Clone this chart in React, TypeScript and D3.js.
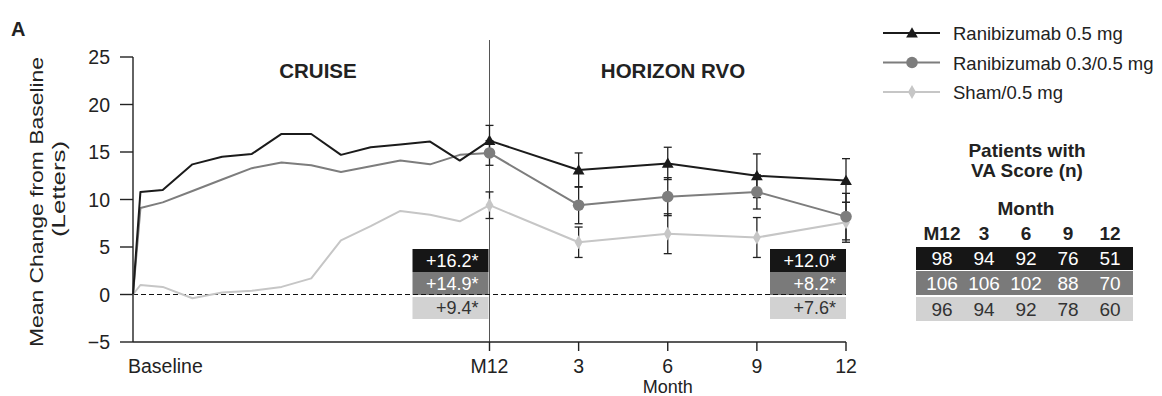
import React from "react";
import * as d3 from "d3";

// ---- data ----
const cruiseMonths = [0, 0.25, 1, 2, 3, 4, 5, 6, 7, 8, 9, 10, 11, 12];
const horizonMonths = [12, 15, 18, 21, 24];
const xTickMonths = [0, 12, 15, 18, 21, 24];
const xTickLabels = ["Baseline", "M12", "3", "6", "9", "12"];
const yTicks = [-5, 0, 5, 10, 15, 20, 25];

const seriesNames = ["Ranibizumab 0.5 mg", "Ranibizumab 0.3/0.5 mg", "Sham/0.5 mg"];

const ranib05Cruise = [0, 10.8, 11.0, 13.7, 14.5, 14.8, 16.9, 16.9, 14.7, 15.5, 15.8, 16.1, 14.1, 16.2];
const ranib03Cruise = [0, 9.1, 9.7, 10.9, 12.1, 13.3, 13.9, 13.6, 12.9, 13.5, 14.1, 13.7, 14.7, 14.9];
const shamCruise = [0, 1.0, 0.8, -0.4, 0.2, 0.4, 0.8, 1.7, 5.7, 7.2, 8.8, 8.4, 7.7, 9.4];

const ranib05Horizon = [16.2, 13.1, 13.8, 12.5, 12.0];
const ranib03Horizon = [14.9, 9.4, 10.3, 10.8, 8.2];
const shamHorizon = [9.4, 5.5, 6.4, 6.0, 7.6];

const ranib05SE = [1.6, 1.8, 1.7, 2.3, 2.3];
const ranib03SE = [1.3, 1.95, 2.0, 1.8, 2.45];
const shamSE = [1.4, 1.6, 2.1, 2.1, 2.1];

const leftLabels = ["+16.2*", "+14.9*", "+9.4*"];
const rightLabels = ["+12.0*", "+8.2*", "+7.6*"];

const tableCols = ["M12", "3", "6", "9", "12"];
const tableRanib05 = [98, 94, 92, 76, 51];
const tableRanib03 = [106, 106, 102, 88, 70];
const tableSham = [96, 94, 92, 78, 60];

// ---- styles ----
const FONT = "'Liberation Sans', Arial, Helvetica, sans-serif";
const TXT = "#222";
const lineColors = ["#1b1b1b", "#7d7d7d", "#c6c6c6"];
const boxColors = ["#161616", "#7a7a7a", "#d2d2d2"];
const boxText = ["#fff", "#fff", "#333"];

export default function App() {
  const W = 1162, H = 396;
  const x = d3.scaleLinear().domain([0, 24]).range([133, 846]);
  const y = d3.scaleLinear().domain([-5, 25]).range([342, 57]);

  const cruise = [ranib05Cruise, ranib03Cruise, shamCruise];
  const horizon = [ranib05Horizon, ranib03Horizon, shamHorizon];
  const ses = [ranib05SE, ranib03SE, shamSE];
  const series = cruise.map((c, i) => {
    const pts = cruiseMonths.map((m, j) => ({ m, v: c[j] }));
    const hp = horizonMonths.map((m, j) => ({ m, v: horizon[i][j], se: ses[i][j] }));
    return { pts: pts.concat(hp.slice(1)), hp };
  });

  const line = d3.line<{ m: number; v: number }>().x(d => x(d.m)).y(d => y(d.v));
  const tri = d3.symbol().type(d3.symbolTriangle).size(60)() as string;
  const dia = d3.symbol().type(d3.symbolDiamond).size(55)() as string;

  const marker = (i: number, cx: number, cy: number, key: string) => {
    if (i === 0) return <path key={key} d={tri} transform={`translate(${cx},${cy + 1})`} fill={lineColors[0]} />;
    if (i === 1) return <circle key={key} cx={cx} cy={cy} r={5.8} fill={lineColors[1]} />;
    return <path key={key} d={dia} transform={`translate(${cx},${cy})`} fill={lineColors[2]} />;
  };

  const order = [2, 1, 0];
  const boxRows = [[249, 272], [272, 295], [297, 319]];
  const tableRows = [[247, 270], [271, 295], [297, 321]];
  const tableData = [tableRanib05, tableRanib03, tableSham];
  const colX = d3.scalePoint<string>().domain(tableCols).range([942, 1110]);

  return (
    <svg width={W} height={H} style={{ position: "absolute", left: 0, top: 0, background: "#fff" }} fontFamily={FONT}>
      <rect x={0} y={0} width={W} height={H} fill="#fff" />
      <text x={11} y={36} fontSize={20} fontWeight="bold" fill={TXT}>A</text>

      {/* y axis label */}
      <text transform="translate(43,202) rotate(-90)" textAnchor="middle" fontSize={18.5} fill={TXT}
        textLength={290} lengthAdjust="spacingAndGlyphs">Mean Change from Baseline</text>
      <text transform="translate(65,189) rotate(-90)" textAnchor="middle" fontSize={18.5} fill={TXT}
        textLength={96} lengthAdjust="spacingAndGlyphs">(Letters)</text>

      {/* section titles */}
      <text x={318} y={78} textAnchor="middle" fontSize={20.5} fontWeight="bold" fill={TXT}>CRUISE</text>
      <text x={673} y={78} textAnchor="middle" fontSize={20.5} fontWeight="bold" fill={TXT}>HORIZON RVO</text>

      {/* M12 divider */}
      <line x1={x(12)} x2={x(12)} y1={40} y2={y(-5) + 9} stroke="#555" strokeWidth={1} />

      {/* value boxes */}
      {[leftLabels, rightLabels].map((labels, k) => {
        const xr = k === 0 ? x(12) - 1 : x(24);
        return labels.map((lab, i) => (
          <g key={`b${k}${i}`}>
            <rect x={xr - 76} y={boxRows[i][0]} width={76} height={boxRows[i][1] - boxRows[i][0]} fill={boxColors[i]} />
            <text x={xr - 10} y={boxRows[i][1] - 5} textAnchor="end" fontSize={18} fill={boxText[i]}>{lab}</text>
          </g>
        ));
      })}

      {/* zero line */}
      <line x1={x(0)} x2={x(24)} y1={y(0)} y2={y(0)} stroke="#111" strokeWidth={1.2} strokeDasharray="5,3" />

      {/* axes */}
      <line x1={x(0)} x2={x(0)} y1={y(25)} y2={y(-5)} stroke="#222" strokeWidth={1.4} />
      <line x1={x(0)} x2={x(24)} y1={y(-5)} y2={y(-5)} stroke="#222" strokeWidth={1.4} />
      {yTicks.map(t => (
        <g key={`yt${t}`}>
          <line x1={x(0) - 13} x2={x(0)} y1={y(t)} y2={y(t)} stroke="#222" strokeWidth={1.4} />
          <text x={110} y={y(t) + 7} textAnchor="end" fontSize={19.5} fill={TXT}>{t < 0 ? `\u2212${-t}` : t}</text>
        </g>
      ))}
      {xTickMonths.map((m, i) => (
        <g key={`xt${m}`}>
          {i > 0 && <line x1={x(m)} x2={x(m)} y1={y(-5)} y2={y(-5) + 9} stroke="#222" strokeWidth={1.4} />}
          <text x={i === 0 ? 128 : x(m)} y={373} textAnchor={i === 0 ? "start" : "middle"} fontSize={19.5} fill={TXT}>{xTickLabels[i]}</text>
        </g>
      ))}
      <text x={x(18)} y={393} textAnchor="middle" fontSize={18} fill={TXT}>Month</text>

      {/* error bars */}
      {order.map(i => series[i].hp.map((d, j) => {
        const cx = x(d.m);
        const y1 = y(d.v + d.se), y2 = y(d.v - d.se);
        return (
          <g key={`e${i}${j}`} stroke="#222" strokeWidth={1.3}>
            <line x1={cx} x2={cx} y1={y1} y2={y2} />
            <line x1={cx - 4} x2={cx + 4} y1={y1} y2={y1} />
            <line x1={cx - 4} x2={cx + 4} y1={y2} y2={y2} />
          </g>
        );
      }))}

      {/* lines */}
      {order.map(i => (
        <path key={`l${i}`} d={line(series[i].pts) as string} fill="none" stroke={lineColors[i]} strokeWidth={2} strokeLinejoin="round" />
      ))}
      {order.map(i => series[i].hp.map((d, j) => marker(i, x(d.m), y(d.v), `m${i}${j}`)))}

      {/* legend */}
      {seriesNames.map((name, i) => {
        const ly = 33 + i * 29.5;
        return (
          <g key={`lg${i}`}>
            <line x1={883} x2={940} y1={ly} y2={ly} stroke={lineColors[i]} strokeWidth={2} />
            {marker(i, 912, ly, `lm${i}`)}
            <text x={953} y={ly + 7} fontSize={18.5} fill={TXT}>{name}</text>
          </g>
        );
      })}

      {/* table */}
      <text x={1027} y={157} textAnchor="middle" fontSize={19} fontWeight="bold" fill={TXT}>Patients with</text>
      <text x={1027} y={177} textAnchor="middle" fontSize={19} fontWeight="bold" fill={TXT}>VA Score (n)</text>
      <text x={1026} y={215} textAnchor="middle" fontSize={19} fontWeight="bold" fill={TXT}>Month</text>
      {tableCols.map(c => (
        <text key={`tc${c}`} x={colX(c)} y={240} textAnchor="middle" fontSize={19} fontWeight="bold" fill={TXT}>{c}</text>
      ))}
      {tableData.map((row, i) => (
        <g key={`tr${i}`}>
          <rect x={916} y={tableRows[i][0]} width={217} height={tableRows[i][1] - tableRows[i][0]} fill={boxColors[i]} />
          {row.map((v, j) => (
            <text key={`tv${i}${j}`} x={colX(tableCols[j])} y={tableRows[i][1] - 5} textAnchor="middle" fontSize={19} fill={boxText[i]}>{v}</text>
          ))}
        </g>
      ))}
    </svg>
  );
}
